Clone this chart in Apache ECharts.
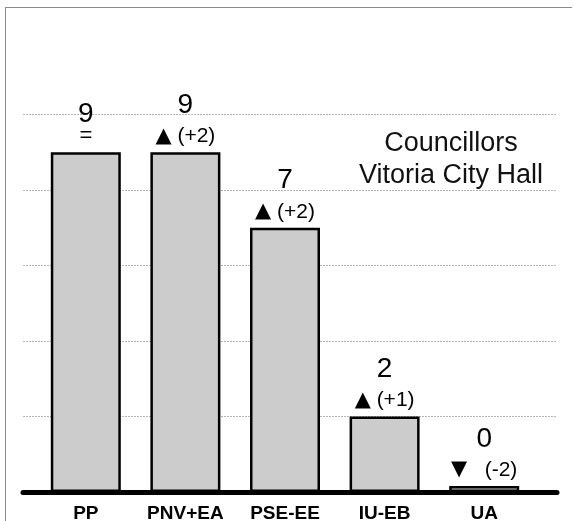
<div id="frame" style="position:absolute;left:5px;top:7px;width:566px;height:520px;border-left:1.5px solid #8a8a8a;border-top:1.5px solid #8a8a8a;"></div>
<div id="chart" style="position:absolute;left:0;top:0;width:574px;height:521px;"></div>

<script src="https://cdn.jsdelivr.net/npm/echarts@6.0.0/dist/echarts.min.js"></script>
<script>
  const parties = ['PP', 'PNV+EA', 'PSE-EE', 'IU-EB', 'UA'];
  const seats = [9, 9, 7, 2, 0];
  const changes = [0, 2, 2, 1, -2]; // vs previous term
  const yTicks = [0, 2, 4, 6, 8, 10];

  const font = "'Liberation Sans', Arial, Helvetica, sans-serif";
  const chart = echarts.init(document.getElementById('chart'));

  function changeText(c) {
    if (c === 0) return '{eq|=}';
    if (c > 0) return '{t|\u25B2}{d| (+' + c + ')}';
    return '{t|\u25BC}{d|   (' + c + ')}';
  }

  const option = {
    animation: false,
    title: {
      text: 'Councillors\nVitoria City Hall',
      left: 446,
      top: 123,
      textAlign: 'center',
      textStyle: {
        fontFamily: font,
        fontSize: 27,
        fontWeight: 'normal',
        lineHeight: 32,
        color: '#111'
      }
    },
    grid: [
      // background grid: gridlines + thick baseline
      { left: 23, right: 17, top: 114.5, bottom: 29, outerBoundsMode: 'none', containLabel: false },
      // bar grid
      { left: 36, right: 40, top: 114.5, bottom: 29, outerBoundsMode: 'none', containLabel: false }
    ],
    xAxis: [
      {
        gridIndex: 0,
        type: 'value',
        min: 0,
        max: 1,
        axisLine: { show: true, lineStyle: { color: '#000', width: 5 } },
        axisTick: { show: false },
        axisLabel: { show: false },
        splitLine: { show: false }
      },
      {
        gridIndex: 1,
        type: 'category',
        data: parties,
        axisLine: { show: false },
        axisTick: { show: false },
        axisLabel: {
          interval: 0,
          margin: 5,
          fontFamily: font,
          fontSize: 19,
          fontWeight: 'bold',
          color: '#000'
        }
      }
    ],
    yAxis: [
      {
        gridIndex: 0,
        type: 'value',
        min: yTicks[0],
        max: yTicks[yTicks.length - 1],
        interval: 2,
        axisLine: { show: false },
        axisTick: { show: false },
        axisLabel: { show: false },
        splitLine: { lineStyle: { color: '#b5b5b5', type: [2, 1], width: 1 } }
      },
      {
        gridIndex: 1,
        type: 'value',
        min: yTicks[0],
        max: yTicks[yTicks.length - 1],
        interval: 2,
        axisLine: { show: false },
        axisTick: { show: false },
        axisLabel: { show: false },
        splitLine: { show: false }
      }
    ],
    series: [
      {
        type: 'bar',
        xAxisIndex: 1,
        yAxisIndex: 1,
        data: seats,
        barWidth: 70,
        barMinHeight: 6,
        itemStyle: {
          color: '#cccccc',
          borderColor: '#000',
          borderWidth: 2.5
        },
        label: {
          show: true,
          position: 'top',
          distance: 4,
          fontFamily: font,
          color: '#000',
          formatter: function (p) {
            const c = changes[p.dataIndex];
            const v = c === 0 ? '{vs|' + p.value + '}' : '{v|' + p.value + '}';
            return v + '\n' + changeText(c);
          },
          rich: {
            v: { fontFamily: font, fontSize: 28, lineHeight: 38, color: '#000' },
            vs: { fontFamily: font, fontSize: 28, lineHeight: 20, color: '#000' },
            t: { fontFamily: "'DejaVu Sans'", fontSize: 21, lineHeight: 24, color: '#000' },
            d: { fontFamily: font, fontSize: 21, lineHeight: 24, color: '#000' },
            eq: { fontFamily: font, fontSize: 22, lineHeight: 24, color: '#000' }
          }
        }
      }
    ]
  };

  chart.setOption(option);
</script>
